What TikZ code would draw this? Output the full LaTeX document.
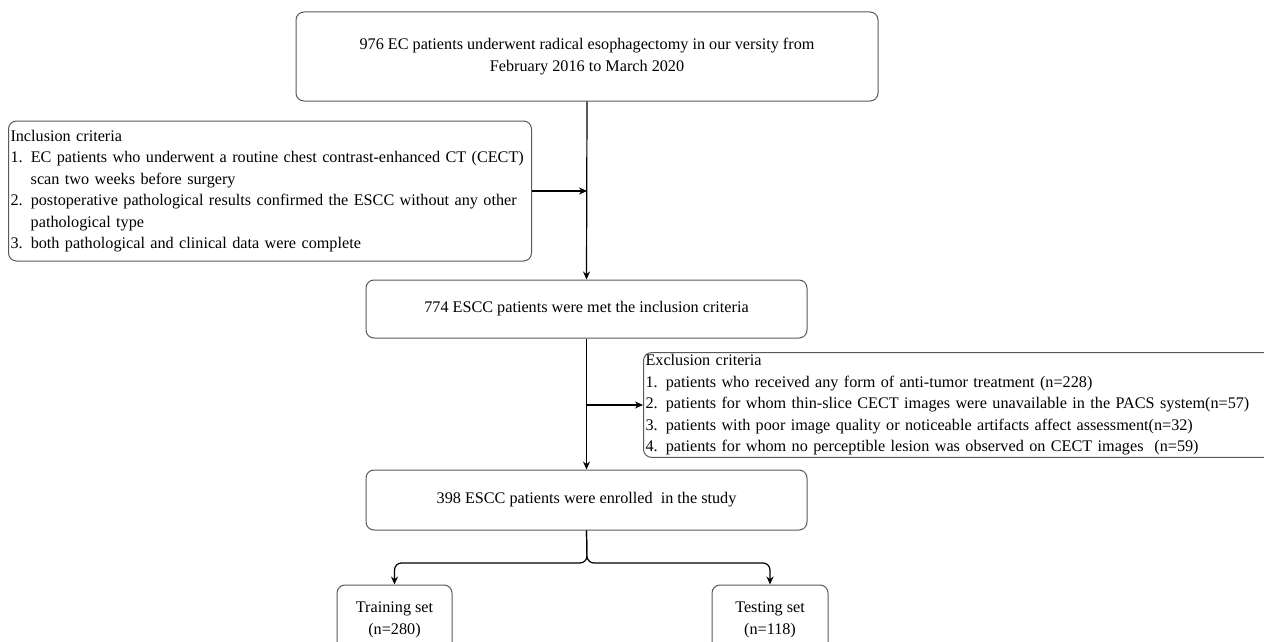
\documentclass[tikz,border=0pt]{standalone}
\usepackage{fontspec}
\setmainfont{Liberation Serif}
\usetikzlibrary{arrows.meta}
\begin{document}
\begin{tikzpicture}[x=1pt,y=-1pt,
  box/.style={draw=black!65, line width=1pt, rounded corners=8pt, inner sep=2pt,
    font=\fontsize{16.2}{21.5}\selectfont, align=center},
  critbox/.style={box, align=left, anchor=west, inner sep=2pt},
  conn/.style={draw=black, line width=1.2pt, -{Stealth[length=8pt,width=7pt]}},
  plain/.style={draw=black, line width=1.2pt}]
\useasboundingbox (0,0) rectangle (1264,642);
\node[box, minimum width=582pt, minimum height=89pt] (top) at (587,56.5)
  {976 EC patients underwent radical esophagectomy in our versity from\\February 2016 to March 2020};
\node[box, minimum width=441pt, minimum height=58pt] (met) at (586.5,309)
  {774 ESCC patients were met the inclusion criteria};
\node[box, minimum width=441pt, minimum height=60pt] (enr) at (586.5,500)
  {398 ESCC patients were enrolled\ \ in the study};
\node[box, minimum width=115pt, minimum height=70pt] (train) at (394.5,620)
  {Training set\\(n=280)};
\node[box, minimum width=116pt, minimum height=70pt] (test) at (770,620)
  {Testing set\\(n=118)};
\node[critbox, minimum width=523pt, minimum height=140pt, text width=519pt] (inc) at (8,191)
  {Inclusion criteria\\
   1. EC patients who underwent a routine chest contrast-enhanced CT (CECT)\\
   \phantom{1. }scan two weeks before surgery\\
   2. postoperative pathological results confirmed the ESCC without any other\\
   \phantom{2. }pathological type\\
   3. both pathological and clinical data were complete};
\node[critbox, minimum width=630pt, minimum height=104pt, text width=626pt] (exc) at (643,405)
  {Exclusion criteria\\
   1. patients who received any form of anti-tumor treatment (n=228)\\
   2. patients for whom thin-slice CECT images were unavailable in the PACS system(n=57)\\
   3. patients with poor image quality or noticeable artifacts affect assessment(n=32)\\
   4. patients for whom no perceptible lesion was observed on CECT images\ \ (n=59)};
\coordinate (incj) at (top.south |- inc.east);
\coordinate (excj) at (top.south |- exc.west);
\coordinate (split) at (587,563);
\draw[conn] (top.south) -- (met.north);
\draw[conn] (inc.east) -- (incj);
\draw[conn] (met.south) -- (enr.north);
\draw[conn] (excj) -- (exc.west);
\draw[conn, rounded corners=7pt] (enr.south) -- (split) -| (train.north);
\draw[conn, rounded corners=7pt] (enr.south) -- (split) -| (test.north);
\end{tikzpicture}
\end{document}
